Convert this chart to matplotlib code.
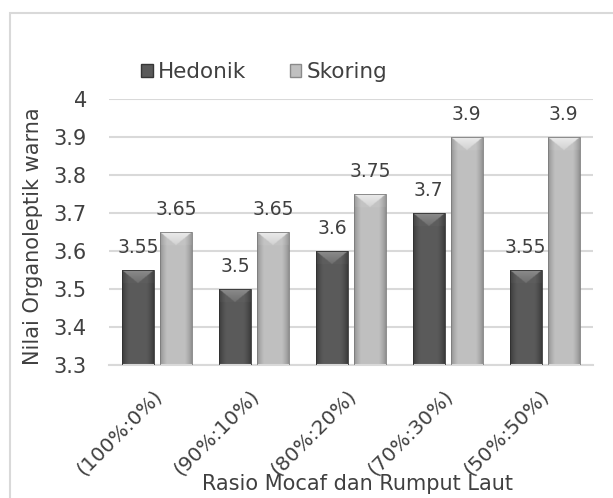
import matplotlib.pyplot as plt
import numpy as np
from matplotlib.patches import Rectangle, Patch
from matplotlib.colors import to_rgb
import matplotlib.transforms as mtransforms

categories = ['(100%:0%)', '(90%:10%)', '(80%:20%)', '(70%:30%)', '(50%:50%)']
hedonik = [3.55, 3.5, 3.6, 3.7, 3.55]
skoring = [3.65, 3.65, 3.75, 3.9, 3.9]
y_ticks = [3.3, 3.4, 3.5, 3.6, 3.7, 3.8, 3.9, 4.0]
y_tick_labels = ['3.3', '3.4', '3.5', '3.6', '3.7', '3.8', '3.9', '4']

Y_MIN, Y_MAX = 3.3, 4.0
TEXT = '#404040'
GRID = '#d9d9d9'

# (base, edge, bevel) colours for each series
HEDONIK_COLS = ('#5a5a5a', '#363636', '#8c8c8c')
SKORING_COLS = ('#c0c0c0', '#8a8a8a', '#ebebeb')


def shaded_bar(ax, x, width, value, cols):
    """Bar with darker sides and a light chevron bevel on top."""
    base, edge, bevel = (np.array(to_rgb(c)) for c in cols)
    x0 = x - width / 2
    clip = Rectangle((x0, Y_MIN), width, value - Y_MIN, facecolor='none',
                     edgecolor=edge * 0.9, linewidth=0.6, zorder=3)
    ax.add_patch(clip)

    p0 = ax.transData.transform((x0, Y_MIN))
    p1 = ax.transData.transform((x0 + width, value))
    w_px = max(int(round(p1[0] - p0[0])) * 2, 4)
    h_px = max(int(round(p1[1] - p0[1])) * 2, 4)

    u = (np.arange(w_px) + 0.5) / w_px
    t = (np.arange(h_px) + 0.5) / 2.0  # pixels from the top
    U, T = np.meshgrid(u, t)

    side = np.clip(np.minimum(U, 1 - U) / 0.22, 0, 1) ** 0.7
    img = edge[None, None, :] + (base - edge)[None, None, :] * side[..., None]

    bev_h = 13.0
    tri = T < bev_h * (1 - np.abs(2 * U - 1))
    k = np.clip(1 - T / bev_h, 0, 1)[..., None] * 0.6 + 0.4
    bev_img = base + (bevel - base) * k
    img = np.where(tri[..., None], bev_img, img)
    corner = (T < bev_h) & ~tri
    img = np.where(corner[..., None], img * 0.92 + bevel * 0.08, img)

    im = ax.imshow(np.clip(img, 0, 1), extent=[x0, x0 + width, Y_MIN, value],
                   origin='upper', aspect='auto', interpolation='bilinear',
                   zorder=2)
    im.set_clip_path(clip)


fig = plt.figure(figsize=(6.13, 4.98), dpi=100)
plt.rcParams['font.family'] = ['DejaVu Sans']

# chart frame
fig.patches.append(Rectangle((10 / 613, -0.1), 1.2, 1.1 - 13 / 498,
                             transform=fig.transFigure, facecolor='none',
                             edgecolor=GRID, linewidth=1.5))

ax = fig.add_axes([109 / 613, 1 - 365 / 498, 484 / 613, 266 / 498])
n = len(categories)
x = np.arange(n)
bar_w = 0.33
off = 0.196
ax.set_xlim(-0.5, n - 0.5)
ax.set_ylim(Y_MIN, Y_MAX)

for i in range(n):
    shaded_bar(ax, x[i] - off, bar_w, hedonik[i], HEDONIK_COLS)
    shaded_bar(ax, x[i] + off, bar_w, skoring[i], SKORING_COLS)
    ax.annotate(f'{hedonik[i]:g}', (x[i] - off, hedonik[i]), xytext=(0, 16),
                textcoords='offset points', ha='center', va='center',
                fontsize=13.5, color=TEXT)
    ax.annotate(f'{skoring[i]:g}', (x[i] + off, skoring[i]), xytext=(0, 16),
                textcoords='offset points', ha='center', va='center',
                fontsize=13.5, color=TEXT)

ax.set_xlim(-0.5, n - 0.5)
ax.set_ylim(Y_MIN, Y_MAX)
ax.set_yticks(y_ticks)
ax.set_yticklabels(y_tick_labels)
ax.yaxis.grid(True, color=GRID, linewidth=1.5)
ax.set_axisbelow(True)
for s in ['top', 'right', 'left']:
    ax.spines[s].set_visible(False)
ax.spines['bottom'].set_color(GRID)
ax.spines['bottom'].set_linewidth(1.5)
ax.tick_params(axis='both', length=0, labelsize=15, colors=TEXT)
ax.tick_params(axis='y', pad=16)

ax.set_xticks(x)
ax.set_xticklabels(categories, rotation=45, ha='right',
                   rotation_mode='anchor', fontsize=14.5)
shift = mtransforms.ScaledTranslation(-5 / 100, -16 / 100, fig.dpi_scale_trans)
for lbl in ax.get_xticklabels():
    lbl.set_transform(lbl.get_transform() + shift)

fig.text(33 / 613, 1 - 236 / 498, 'Nilai Organoleptik warna', rotation=90,
         ha='center', va='center', fontsize=15, color=TEXT)
fig.text(357 / 613, 1 - 484 / 498, 'Rasio Mocaf dan Rumput Laut',
         ha='center', va='center', fontsize=15, color=TEXT)

handles = [Patch(facecolor=HEDONIK_COLS[0], edgecolor=HEDONIK_COLS[1]),
           Patch(facecolor=SKORING_COLS[0], edgecolor=SKORING_COLS[1])]
ax.legend(handles, ['Hedonik', 'Skoring'], ncol=2, loc='center left',
          bbox_to_anchor=(141 / 613, 1 - 72 / 498),
          bbox_transform=fig.transFigure, frameon=False, fontsize=15.5,
          handlelength=0.55, handleheight=0.55, handletextpad=0.25,
          columnspacing=2.0, borderpad=0, borderaxespad=0, labelcolor=TEXT)

fig.savefig('out.png', dpi=100)
